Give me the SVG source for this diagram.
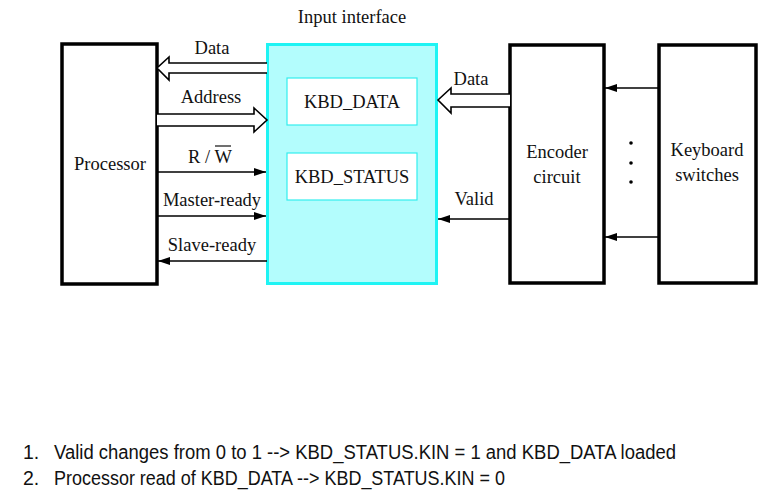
<svg xmlns="http://www.w3.org/2000/svg" width="773" height="497" viewBox="0 0 773 497">
<style>
.t{font-family:"Liberation Serif","Times New Roman",serif;font-size:18.5px;fill:#111}
.n{font-family:"Liberation Sans",Arial,sans-serif;font-size:19.5px;fill:#111}
.blk{fill:#fff;stroke:#000;stroke-width:3.5}
.ln{stroke:#000;stroke-width:1.6;fill:none}
.bus{fill:#fff;stroke:#000;stroke-width:1.6;stroke-linejoin:miter}
</style>
<defs>
<marker id="ah" viewBox="0 0 12 8" refX="12" refY="4" markerWidth="12" markerHeight="8" markerUnits="userSpaceOnUse" orient="auto">
<path d="M0,0 L12,4 L0,8 Z" fill="#000"/>
</marker>
</defs>
<rect width="773" height="497" fill="#fff"/>
<g id="processor">
<rect class="blk" x="62" y="44" width="95" height="240"/>
<text class="t" x="110" y="170" text-anchor="middle">Processor</text>
</g>
<g id="input-interface">
<text class="t" x="352" y="23" text-anchor="middle">Input interface</text>
<rect x="267.5" y="44.5" width="169" height="239" fill="#b3fdfd" stroke="#1ef4f4" stroke-width="3"/>
</g>
<g id="kbd-data">
<rect x="287" y="78" width="130" height="47" fill="#fff" stroke="#33eeee" stroke-width="1.2"/>
<text class="t" x="352" y="108" text-anchor="middle">KBD_DATA</text>
</g>
<g id="kbd-status">
<rect x="287" y="153" width="130" height="47" fill="#fff" stroke="#33eeee" stroke-width="1.2"/>
<text class="t" x="352" y="183" text-anchor="middle">KBD_STATUS</text>
</g>
<g id="encoder">
<rect class="blk" x="510" y="45" width="94" height="238"/>
<text class="t" x="557" y="158" text-anchor="middle">Encoder</text>
<text class="t" x="557" y="183" text-anchor="middle">circuit</text>
</g>
<g id="keyboard">
<rect class="blk" x="659" y="45" width="97" height="238"/>
<text class="t" x="707" y="156" text-anchor="middle">Keyboard</text>
<text class="t" x="707" y="181" text-anchor="middle">switches</text>
</g>
<g id="connectors">
<path class="bus" d="M267,63 L169,63 L169,57 L157,68 L169,80 L169,73 L267,73"/>
<text class="t" x="212" y="54" text-anchor="middle">Data</text>
<path class="bus" d="M157,114 L254,114 L254,108 L267,120 L254,132 L254,126 L157,126"/>
<text class="t" x="211" y="103" text-anchor="middle">Address</text>
<line class="ln" x1="157" y1="172" x2="266" y2="172" marker-end="url(#ah)"/>
<text class="t" x="210" y="163" text-anchor="middle">R / W</text>
<line x1="215" y1="146" x2="231" y2="146" stroke="#111" stroke-width="1.2"/>
<line class="ln" x1="157" y1="216" x2="266" y2="216" marker-end="url(#ah)"/>
<text class="t" x="212" y="206" text-anchor="middle">Master-ready</text>
<line class="ln" x1="267" y1="261" x2="158" y2="261" marker-end="url(#ah)"/>
<text class="t" x="212" y="251" text-anchor="middle">Slave-ready</text>
<path class="bus" d="M510,94 L451,94 L451,88 L438,100 L451,113 L451,107 L510,107"/>
<text class="t" x="471" y="85" text-anchor="middle">Data</text>
<line class="ln" x1="510" y1="219" x2="438" y2="219" marker-end="url(#ah)"/>
<text class="t" x="474" y="205" text-anchor="middle">Valid</text>
<line class="ln" x1="659" y1="88" x2="605" y2="88" marker-end="url(#ah)"/>
<line class="ln" x1="659" y1="237" x2="605" y2="237" marker-end="url(#ah)"/>
<circle cx="631" cy="143" r="1.8" fill="#000"/>
<circle cx="631" cy="163" r="1.8" fill="#000"/>
<circle cx="631" cy="182" r="1.8" fill="#000"/>
</g>
<g id="notes">
<text class="n" x="23" y="459">1.</text>
<text class="n" x="54" y="459" textLength="622" lengthAdjust="spacingAndGlyphs">Valid changes from 0 to 1 --&gt; KBD_STATUS.KIN = 1 and KBD_DATA loaded</text>
<text class="n" x="23" y="485">2.</text>
<text class="n" x="54" y="485" textLength="451" lengthAdjust="spacingAndGlyphs">Processor read of KBD_DATA --&gt; KBD_STATUS.KIN = 0</text>
</g>
</svg>
